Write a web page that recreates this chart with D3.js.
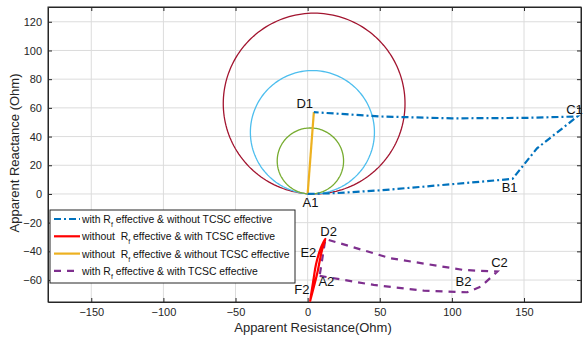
<!DOCTYPE html>
<html>
<head>
<meta charset="utf-8">
<script src="https://cdn.jsdelivr.net/npm/d3@7"></script>
<style>
  body { margin: 0; background: #fff; }
  svg { font-family: "Liberation Sans", Arial, sans-serif; }
  .tick text { fill: #262626; font-size: 11px; }
</style>
</head>
<body>
<svg id="chart" width="584" height="337"></svg>
<script>
// tick values
const xTicks = [-150, -100, -50, 0, 50, 100, 150];
const yTicks = [-60, -40, -20, 0, 20, 40, 60, 80, 100, 120];

// circles through the origin
const circles = [
  { name: 'outer', cx: 4.5, cy: 63, r: 63, color: '#A2142F' },
  { name: 'middle', cx: 3.3, cy: 43, r: 43, color: '#4DBEEE' },
  { name: 'inner', cx: 1.9, cy: 23, r: 23, color: '#77AC30' }
];

// with Rf & without TCSC : A1 -> B1 -> C1 -> D1
const trajRf = [
  [0, 0], [20, 0.6], [50, 2.5], [100, 6.8], [142, 10.5],
  [159, 31.8], [187, 54], [150, 53], [100, 52.7], [50, 54], [20, 56], [4.3, 57]
];
// without Rf & with TCSC : F2 -> E2 -> D2 -> F2
const trajTcsc = [
  [1.9, -73.4], [4, -60], [5.8, -49], [9, -38], [12.3, -31.4],
  [10, -39], [8.5, -46], [6.5, -56], [2.4, -72]
];
// without Rf & without TCSC : A1 -> D1
const trajNone = [[0, 0], [4.3, 57]];
// with Rf & with TCSC : A2 -> B2 -> C2 -> D2 -> A2
const trajBoth = [
  [8.3, -57.1], [45.8, -63.4], [80.5, -67.4], [110.7, -68.5], [120, -64.6],
  [131.5, -54.1], [108.3, -53], [57.4, -44.8], [12.3, -31.4], [8.3, -57.1]
];

const pointLabels = [
  { t: 'A1', x: 2, y: -6.5 }, { t: 'B1', x: 140, y: 3.5 }, { t: 'C1', x: 185, y: 58 },
  { t: 'D1', x: -2, y: 62 }, { t: 'D2', x: 14.5, y: -27 }, { t: 'E2', x: 0.5, y: -41.5 },
  { t: 'A2', x: 13, y: -62 }, { t: 'F2', x: -4, y: -67.5 },
  { t: 'C2', x: 133, y: -48.5 }, { t: 'B2', x: 108, y: -61.5 }
];

const legendItems = [
  { pre: 'with R', post: ' effective & without TCSC effective', color: '#0072BD', dash: '7,3,2,3' },
  { pre: 'without  R', post: ' effective & with TCSC effective', color: '#FF0000', dash: null },
  { pre: 'without  R', post: ' effective & without TCSC effective', color: '#EDB120', dash: null },
  { pre: 'with R', post: ' effective & with TCSC effective', color: '#7E2F8E', dash: '7,6' }
];

const margin = { top: 7, right: 3, bottom: 35, left: 48 };
const W = 584, H = 337;
const w = W - margin.left - margin.right;
const h = H - margin.top - margin.bottom;

const svg = d3.select('#chart');
const g = svg.append('g').attr('transform', 'translate(' + margin.left + ',' + margin.top + ')');

const x = d3.scaleLinear().domain([-180, 189.5]).range([0, w]);
const y = d3.scaleLinear().domain([-75.3, 130.3]).range([h, 0]);

// grid
g.append('g').selectAll('line').data(xTicks).enter().append('line')
  .attr('x1', d => x(d)).attr('x2', d => x(d)).attr('y1', 0).attr('y2', h)
  .attr('stroke', '#dcdcdc').attr('stroke-width', 1);
g.append('g').selectAll('line').data(yTicks).enter().append('line')
  .attr('y1', d => y(d)).attr('y2', d => y(d)).attr('x1', 0).attr('x2', w)
  .attr('stroke', '#dcdcdc').attr('stroke-width', 1);

// axes (ticks pointing inward, like matlab)
g.append('g').attr('transform', 'translate(0,' + h + ')')
  .call(d3.axisBottom(x).tickValues(xTicks).tickSizeInner(-4).tickSizeOuter(0).tickPadding(6));
g.append('g')
  .call(d3.axisLeft(y).tickValues(yTicks).tickSizeInner(-4).tickSizeOuter(0).tickPadding(6));
g.append('g').call(d3.axisTop(x).tickValues(xTicks).tickSizeInner(-4).tickSizeOuter(0).tickFormat(''));
g.append('g').attr('transform', 'translate(' + w + ',0)')
  .call(d3.axisRight(y).tickValues(yTicks).tickSizeInner(-4).tickSizeOuter(0).tickFormat(''));
g.selectAll('.domain').attr('stroke', '#262626');
g.selectAll('.tick line').attr('stroke', '#262626');
g.append('rect').attr('width', w).attr('height', h)
  .attr('fill', 'none').attr('stroke', '#262626').attr('stroke-width', 1);

const plot = g.append('g');

// circles
const circleLine = d3.line().x(d => x(d[0])).y(d => y(d[1]));
circles.forEach(c => {
  const pts = d3.range(0, 361, 2).map(a => {
    const t = a * Math.PI / 180;
    return [c.cx + c.r * Math.sin(t), c.cy - c.r * Math.cos(t)];
  });
  plot.append('path').datum(pts).attr('d', circleLine)
    .attr('fill', 'none').attr('stroke', c.color).attr('stroke-width', 1.3);
});

const line = d3.line().x(d => x(d[0])).y(d => y(d[1])).curve(d3.curveLinear);

plot.append('path').datum(trajNone).attr('d', line)
  .attr('fill', 'none').attr('stroke', '#EDB120').attr('stroke-width', 2.2);
plot.append('path').datum(trajRf).attr('d', line)
  .attr('fill', 'none').attr('stroke', '#0072BD').attr('stroke-width', 2.2)
  .attr('stroke-dasharray', '7,3,2,3');
plot.append('path').datum(trajBoth).attr('d', line)
  .attr('fill', 'none').attr('stroke', '#7E2F8E').attr('stroke-width', 2.2)
  .attr('stroke-dasharray', '7,6');
plot.append('path').datum(trajTcsc).attr('d', d3.line().x(d => x(d[0])).y(d => y(d[1])).curve(d3.curveCardinalClosed))
  .attr('fill', 'none').attr('stroke', '#FF0000').attr('stroke-width', 2.2);

// point labels
plot.selectAll('.plabel').data(pointLabels).enter().append('text')
  .attr('class', 'plabel')
  .attr('x', d => x(d.x)).attr('y', d => y(d.y))
  .attr('text-anchor', 'middle').attr('dominant-baseline', 'middle')
  .attr('font-size', '13px').attr('fill', '#111')
  .text(d => d.t);

// axis labels
svg.append('text').attr('x', 313).attr('y', 332)
  .attr('text-anchor', 'middle').attr('font-size', '13px').attr('fill', '#262626')
  .text('Apparent Resistance(Ohm)');
svg.append('text').attr('transform', 'translate(19,153) rotate(-90)')
  .attr('text-anchor', 'middle').attr('font-size', '13px').attr('fill', '#262626')
  .text('Apparent Reactance (Ohm)');

// legend
const lg = svg.append('g').attr('transform', 'translate(50,210)');
lg.append('rect').attr('width', 245).attr('height', 73)
  .attr('fill', '#fff').attr('stroke', '#262626').attr('stroke-width', 1);
legendItems.forEach((d, i) => {
  const yy = 9 + i * 17.3;
  const ln = lg.append('line').attr('x1', 4).attr('x2', 30).attr('y1', yy).attr('y2', yy)
    .attr('stroke', d.color).attr('stroke-width', 2.2);
  if (d.dash) ln.attr('stroke-dasharray', d.dash);
  const t = lg.append('text').attr('x', 32).attr('y', yy + 4)
    .attr('font-size', '10.4px').attr('fill', '#111').attr('xml:space', 'preserve');
  t.append('tspan').text(d.pre);
  t.append('tspan').attr('font-size', '7px').attr('dy', 4).text('f');
  t.append('tspan').attr('dy', -4).text(d.post);
});
</script>
</body>
</html>
